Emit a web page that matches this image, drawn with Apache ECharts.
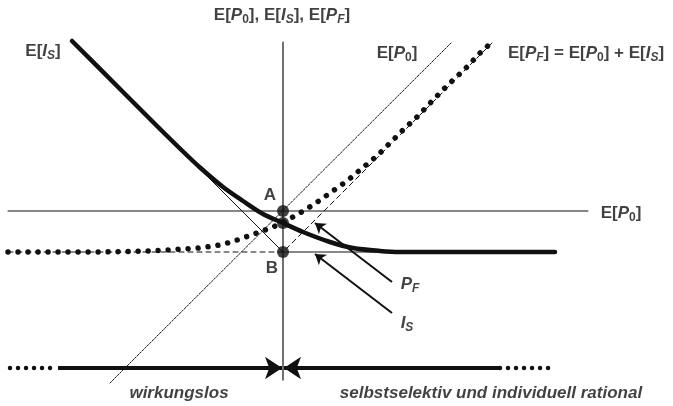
<!DOCTYPE html>
<html>
<head>
<meta charset="utf-8">
<script src="https://cdn.jsdelivr.net/npm/echarts@6/dist/echarts.min.js"></script>
<style>
  html, body { margin: 0; padding: 0; background: #fff; }
  #chart-container { width: 673px; height: 406px; }
</style>
</head>
<body>
<div id="chart-container"></div>
<script>
// diagram values, origin at point B
const verticalAxis = [[0, 21], [0, -12.8]];
const p0Level = [[-27.5, 4.1], [30.5, 4.1]];
const p0Diagonal = [[-17.3, -13.1], [16.9, 21]];
const isKinked = [[-21.1, 21.1], [0, 0], [10, 0]];
const pfAsymptote = [[-27.5, 0], [0, 0], [20.9, 20.9]];
const isCurve = [
  [-21.1, 21.1], [-16.3, 16.3], [-12.6, 12.6], [-10, 10.05], [-8.3, 8.45],
  [-6, 6.5], [-4, 5.1], [-2, 3.8], [0, 2.9], [2, 2], [4.7, 1], [7, 0.4],
  [9.7, 0.1], [11.7, 0], [27.2, 0]
];
const pfCurve = [
  [-27.5, 0], [-18.3, 0], [-13.3, 0.1], [-8.3, 0.4], [-6.3, 0.7], [-5, 1.05],
  [-3.3, 1.65], [-1, 2.5], [0, 2.95], [1.7, 3.9], [3, 4.7], [4, 5.4], [5.4, 6.4],
  [6.4, 7.1], [7.7, 8.2], [9.4, 9.6], [10.7, 10.9], [12, 12.2], [13.5, 13.6],
  [15, 15.2], [16.7, 16.9], [18.4, 18.5], [19.7, 19.9], [20.8, 20.9]
];
const points = [[0, 4.1], [0, 2.9], [0, 0]];
const pfArrow = [[10.9, -3], [3.2, 2.9]];
const isArrow = [[10.9, -6.1], [3.2, -0.2]];
const bottomY = -11.6;
const leftDots = [[-27.3, bottomY], [-22.5, bottomY]];
const leftArrow = [[-22.5, bottomY], [-0.1, bottomY]];
const rightArrow = [[21.7, bottomY], [0.1, bottomY]];
const rightDots = [[21.7, bottomY], [27, bottomY]];

const labels = [
  { value: [-0.1, 23.7], text: "{n|E[}{i|P}{s|0}{n|], E[}{i|I}{si|S}{n|], E[}{i|P}{si|F}{n|]}" },
  { value: [-24, 20.1], text: "{n|E[}{i|I}{si|S}{n|]}" },
  { value: [11.4, 19.9], text: "{n|E[}{i|P}{s|0}{n|]}" },
  { value: [30.3, 19.9], text: "{n|E[}{i|P}{si|F}{n|] = E[}{i|P}{s|0}{n|] + E[}{i|I}{si|S}{n|]}" },
  { value: [33.8, 3.9], text: "{n|E[}{i|P}{s|0}{n|]}" },
  { value: [-1.3, 5.7], text: "{n|A}" },
  { value: [-1.1, -1.6], text: "{n|B}" },
  { value: [12.7, -3.2], text: "{i|P}{si|F}" },
  { value: [12.4, -7.1], text: "{i|I}{si|S}" },
  { value: [-10.4, -14.1], text: "{it|wirkungslos}" },
  { value: [20.8, -14.1], text: "{it|selbstselektiv und individuell rational}" }
];

const ink = "#111";
const font = "'Liberation Sans', Arial, sans-serif";

function plainLine(data, width, type) {
  return {
    type: "line",
    data: data,
    showSymbol: false,
    silent: true,
    lineStyle: { color: ink, width: width, type: type || "solid", cap: "round" }
  };
}

function arrowLine(coords, width, size) {
  return {
    type: "lines",
    coordinateSystem: "cartesian2d",
    silent: true,
    symbol: ["none", "arrow"],
    symbolSize: size,
    lineStyle: { color: ink, width: width, opacity: 1, curveness: 0 },
    data: [{ coords: coords }]
  };
}

function createChart() {
  let dom = document.getElementById("chart-container");
  let myChart = echarts.init(dom, null, { renderer: "canvas" });
  let dotted = plainLine(pfCurve, 5.5, [0.01, 10]);
  let isThick = plainLine(isCurve, 4.5);
  isThick.smooth = 0.3;
  let option = {
    animation: false,
    backgroundColor: "#fff",
    grid: { left: 3, right: 0, top: 2, bottom: 4 },
    xAxis: { type: "value", min: -28, max: 39, show: false },
    yAxis: { type: "value", min: -15, max: 25, show: false },
    series: [
      plainLine(verticalAxis, 1.2),
      plainLine(p0Level, 1),
      plainLine(isKinked, 1),
      plainLine(p0Diagonal, 1, [2, 1.5]),
      plainLine(pfAsymptote, 1, [5, 4]),
      isThick,
      dotted,
      plainLine(leftDots, 4.5, [0.01, 8]),
      plainLine(rightDots, 4.5, [0.01, 8]),
      arrowLine(leftArrow, 4, 17),
      arrowLine(rightArrow, 4, 17),
      arrowLine(pfArrow, 2, 10),
      arrowLine(isArrow, 2, 10),
      {
        type: "scatter",
        data: points,
        symbolSize: 12,
        silent: true,
        itemStyle: { color: ink }
      },
      {
        type: "scatter",
        symbolSize: 0,
        silent: true,
        data: labels.map(function (l) {
          return { value: l.value, label: { formatter: l.text } };
        }),
        label: {
          show: true,
          position: "inside",
          color: ink,
          fontFamily: font,
          rich: {
            n: { fontSize: 17, fontWeight: "bold", lineHeight: 22, fontFamily: font, color: ink },
            i: { fontSize: 17, fontWeight: "bold", lineHeight: 22, fontStyle: "italic", fontFamily: font, color: ink },
            s: { fontSize: 12, fontWeight: "bold", lineHeight: 12, verticalAlign: "bottom", fontFamily: font, color: ink },
            si: { fontSize: 12, fontWeight: "bold", lineHeight: 12, verticalAlign: "bottom", fontStyle: "italic", fontFamily: font, color: ink },
            it: { fontSize: 17, fontWeight: "bold", lineHeight: 22, fontStyle: "italic", fontFamily: font, color: ink }
          }
        }
      }
    ]
  };
  myChart.setOption(option);
}

createChart();
</script>
</body>
</html>
